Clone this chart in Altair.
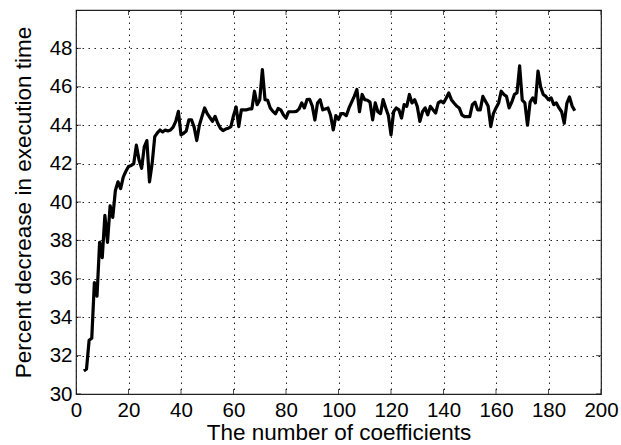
import altair as alt
import pandas as pd

# Percent decrease in execution time vs number of coefficients (c = 3 .. 190)
pct = [
    31.2, 31.3, 32.8, 32.9, 35.8, 35.1, 37.9, 37.1, 39.3, 37.9,
    39.8, 39.2, 40.6, 41.05, 40.7, 41.3, 41.6, 41.85, 41.9, 42.0,
    42.96, 42.2, 41.75, 42.87, 43.2, 41.05, 42.0, 43.4, 43.6, 43.75,
    43.65, 43.75, 43.7, 43.75, 43.9, 44.2, 44.72, 43.5, 43.58, 43.7,
    44.28, 44.28, 43.9, 43.2, 44.0, 44.46, 44.9, 44.6, 44.4, 44.2,
    44.46, 44.1, 43.84, 43.72, 43.8, 43.84, 43.93, 44.5, 44.95, 43.93,
    44.8, 44.8, 44.8, 44.85, 44.85, 45.77, 45.07, 45.33, 46.9, 45.33,
    45.3, 44.9, 44.72, 44.6, 44.87, 44.8, 44.54, 44.37, 44.7, 44.7,
    44.7, 44.72, 44.85, 45.16, 44.9, 45.33, 45.35, 45.0, 44.27, 45.16,
    45.33, 44.8, 44.85, 44.9, 44.5, 43.75, 44.5, 44.3, 44.6, 44.6,
    44.5, 44.9, 45.2, 45.5, 45.86, 44.7, 45.6, 45.33, 45.3, 45.2,
    44.28, 45.16, 44.7, 44.6, 45.33, 44.9, 44.5, 43.5, 44.7, 44.9,
    44.8, 44.37, 45.07, 44.98, 45.6, 45.16, 45.33, 44.98, 44.2, 44.7,
    44.9, 44.54, 44.98, 44.8, 44.63, 45.16, 45.25, 45.16, 45.4, 45.68,
    45.33, 45.16, 45.0, 44.9, 44.54, 44.45, 44.45, 44.45, 45.07, 45.2,
    44.8, 44.8, 45.5, 45.25, 45.0, 43.93, 44.6, 44.9, 45.16, 45.77,
    45.6, 45.5, 44.9, 45.2, 45.6, 45.68, 47.09, 45.3, 45.16, 44.0,
    45.2, 45.42, 45.16, 46.82, 46.0, 45.6, 45.5, 45.33, 45.42, 45.07,
    45.16, 44.9, 44.7, 44.1, 45.15, 45.47, 45.0, 44.75,
]
coef = list(range(3, 3 + len(pct)))

x_ticks = [0, 20, 40, 60, 80, 100, 120, 140, 160, 180, 200]
y_ticks = [30, 32, 34, 36, 38, 40, 42, 44, 46, 48]
y_tick_marks = y_ticks + [50]

FONT = "Liberation Sans"
W, H = 525, 384

df = pd.DataFrame({"coef": coef, "pct": pct})
xt = pd.DataFrame({"v": x_ticks})
yt = pd.DataFrame({"v": y_tick_marks})

xscale = alt.Scale(domain=[0, 200], nice=False, zero=False)
yscale = alt.Scale(domain=[30, 50], nice=False, zero=False)

line = alt.Chart(df).mark_line(color="black", strokeWidth=3.2, strokeJoin="round").encode(
    x=alt.X("coef:Q", scale=xscale,
            axis=alt.Axis(title="The number of coefficients", values=x_ticks,
                          grid=True, ticks=False, domain=False,
                          labelOverlap=False, labelFlush=False,
                          labelFontSize=20.5, titleFontSize=22.5,
                          labelPadding=6, titlePadding=1)),
    y=alt.Y("pct:Q", scale=yscale,
            axis=alt.Axis(title="Percent decrease in execution time", values=y_ticks,
                          grid=True, ticks=False, domain=False,
                          labelOverlap=False, labelFlush=False,
                          labelFontSize=20.5, titleFontSize=22.5,
                          labelPadding=4, titlePadding=14)),
)

tick_style = dict(color="black", thickness=1, size=10, clip=True)

xt_bottom = alt.Chart(xt).mark_tick(**tick_style).encode(
    x=alt.X("v:Q", scale=xscale), y=alt.value(H))
xt_top = alt.Chart(xt).mark_tick(**tick_style).encode(
    x=alt.X("v:Q", scale=xscale), y=alt.value(0))
yt_left = alt.Chart(yt).mark_tick(**tick_style).encode(
    y=alt.Y("v:Q", scale=yscale), x=alt.value(0))
yt_right = alt.Chart(yt).mark_tick(**tick_style).encode(
    y=alt.Y("v:Q", scale=yscale), x=alt.value(W))

chart = alt.layer(line, xt_bottom, xt_top, yt_left, yt_right).properties(
    width=W, height=H,
    autosize=alt.AutoSizeParams(type="none"),
    padding={"left": 76, "top": 10, "right": 20, "bottom": 51},
    background="white",
).configure_view(
    stroke="#222", strokeWidth=1.2
).configure_axis(
    gridColor="#222", gridDash=[1.5, 4.5], gridWidth=1, gridOpacity=1,
    labelFont=FONT, titleFont=FONT, labelColor="black", titleColor="black",
    titleFontWeight="normal",
)

chart.save("out.html", embed_options={"renderer": "svg", "actions": False})
